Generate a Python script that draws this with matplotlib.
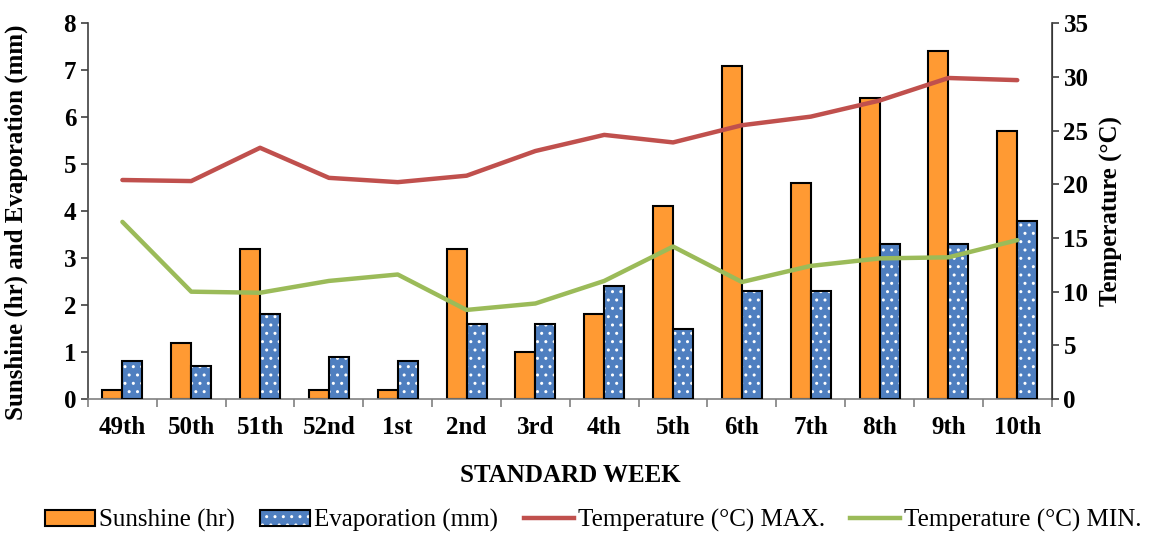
import numpy as np
import matplotlib
matplotlib.use('Agg')
import matplotlib.pyplot as plt
from matplotlib.patches import Patch
from matplotlib.lines import Line2D
from matplotlib.legend_handler import HandlerTuple

# data
weeks = ['49th', '50th', '51th', '52nd', '1st', '2nd', '3rd',
         '4th', '5th', '6th', '7th', '8th', '9th', '10th']
sunshine = [0.2, 1.2, 3.2, 0.2, 0.2, 3.2, 1.0, 1.8, 4.1, 7.1, 4.6, 6.4, 7.4, 5.7]
evaporation = [0.8, 0.7, 1.8, 0.9, 0.8, 1.6, 1.6, 2.4, 1.5, 2.3, 2.3, 3.3, 3.3, 3.8]
temp_max = [20.4, 20.3, 23.4, 20.6, 20.2, 20.8, 23.1, 24.6, 23.9, 25.5, 26.3, 27.8, 29.9, 29.7]
temp_min = [16.5, 10.0, 9.9, 11.0, 11.6, 8.3, 8.9, 11.0, 14.2, 10.9, 12.4, 13.1, 13.2, 14.8]

plt.rcParams['font.family'] = ['Liberation Serif', 'DejaVu Serif']
plt.rcParams['hatch.linewidth'] = 1.0

c_orange = '#FF9A33'
c_blue = '#4F7FC0'
c_red = '#C0504D'
c_green = '#9BBB59'
spine_col = '#808080'
fs = 18

fig = plt.figure(figsize=(11.5, 5.4), dpi=100)
ax = fig.add_axes([0.0765, 0.261, 0.838, 0.696])
ax2 = ax.twinx()

x = np.arange(len(weeks))
w = 0.29

# sunshine bars
ax.bar(x - w / 2, sunshine, w, color=c_orange, edgecolor='black', linewidth=1.5, zorder=2)
# evaporation bars: dotted fill, then black outline on top
ax.bar(x + w / 2, evaporation, w, color=c_blue, edgecolor='white', hatch='..',
       linewidth=0, zorder=2)
ax.bar(x + w / 2, evaporation, w, fill=False, edgecolor='black', linewidth=1.5, zorder=3)

ax2.plot(x, temp_max, color=c_red, linewidth=3.2, solid_capstyle='round')
ax2.plot(x, temp_min, color=c_green, linewidth=3.2, solid_capstyle='round')

ax.set_xlim(-0.5, len(weeks) - 0.5)
ax.set_ylim(0, 8)
ax2.set_ylim(0, 35)
ax.set_yticks(range(0, 9))
ax2.set_yticks(range(0, 36, 5))

ax.set_xticks(x)
ax.set_xticklabels(weeks, fontsize=fs, fontweight='bold')
ax.set_xticks(np.arange(-0.5, len(weeks)), minor=True)
ax.tick_params(axis='x', which='major', length=0, pad=12)
ax.tick_params(axis='x', which='minor', length=6, color=spine_col, width=1.2)
ax.tick_params(axis='y', labelsize=fs, length=5, color='#404040', width=1.2)
ax2.tick_params(axis='y', labelsize=fs, length=5, color='#404040', width=1.2)
for lab in ax.get_yticklabels() + ax2.get_yticklabels():
    lab.set_fontweight('bold')

for a in (ax, ax2):
    a.spines['top'].set_visible(False)
ax.spines['bottom'].set_color(spine_col)
ax.spines['bottom'].set_linewidth(1.2)
ax.spines['left'].set_color('#404040')
ax.spines['left'].set_linewidth(1.2)
ax2.spines['right'].set_color('#404040')
ax2.spines['right'].set_linewidth(1.2)
ax2.spines['bottom'].set_visible(False)
ax2.spines['left'].set_visible(False)

ax.set_ylabel('Sunshine (hr) and Evaporation (mm)', fontsize=fs, fontweight='bold', labelpad=8)
ax.yaxis.set_label_coords(-0.062, 0.47)
ax2.set_ylabel('Temperature (°C)', fontsize=fs, fontweight='bold', labelpad=8)
ax.set_xlabel('STANDARD WEEK', fontsize=fs, fontweight='bold', labelpad=18)

h_sun = Patch(facecolor=c_orange, edgecolor='black', linewidth=1.5)
h_evap_fill = Patch(facecolor=c_blue, edgecolor='white', hatch='..', linewidth=0)
h_evap_edge = Patch(fill=False, edgecolor='black', linewidth=1.5)
h_max = Line2D([], [], color=c_red, linewidth=3.2)
h_min = Line2D([], [], color=c_green, linewidth=3.2)
fig.legend([h_sun, (h_evap_fill, h_evap_edge), h_max, h_min],
           ['Sunshine (hr)', 'Evaporation (mm)', 'Temperature (°C) MAX.', 'Temperature (°C) MIN.'],
           handler_map={tuple: HandlerTuple(ndivide=1, pad=0)},
           loc='lower center', bbox_to_anchor=(0.516, -0.022), ncol=4, frameon=False,
           fontsize=18, handlelength=2.0, handleheight=0.6, handletextpad=0.16,
           columnspacing=1.02, borderpad=0.3)

fig.savefig('out.png', dpi=100)
